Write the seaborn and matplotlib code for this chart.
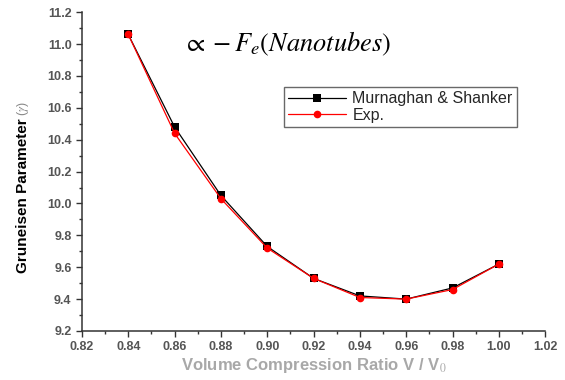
import matplotlib
matplotlib.use("Agg")
import matplotlib.pyplot as plt
from matplotlib.ticker import MultipleLocator
import seaborn as sns
import pandas as pd

# Volume compression ratio V/V0
ratio = [0.84, 0.86, 0.88, 0.90, 0.92, 0.94, 0.96, 0.98, 1.00]
# Gruneisen parameter, Murnaghan & Shanker model
murnaghan = [11.06, 10.48, 10.05, 9.73, 9.53, 9.42, 9.40, 9.47, 9.62]
# Gruneisen parameter, experimental
experiment = [11.06, 10.44, 10.03, 9.72, 9.53, 9.41, 9.40, 9.46, 9.62]

x_ticks = [0.82, 0.84, 0.86, 0.88, 0.90, 0.92, 0.94, 0.96, 0.98, 1.00, 1.02]
y_ticks = [9.2, 9.4, 9.6, 9.8, 10.0, 10.2, 10.4, 10.6, 10.8, 11.0, 11.2]

sns.set_theme(style="ticks")
plt.rcParams["font.family"] = ["Liberation Sans", "DejaVu Sans"]
plt.rcParams["mathtext.fontset"] = "stix"

df = pd.concat([
    pd.DataFrame({"ratio": ratio, "gamma": murnaghan, "series": "Murnaghan & Shanker"}),
    pd.DataFrame({"ratio": ratio, "gamma": experiment, "series": "Exp."}),
])

fig = plt.figure(figsize=(5.65, 3.8), dpi=100)
ax = fig.add_axes([0.145, 0.129, 0.82, 0.839])

sns.lineplot(data=df, x="ratio", y="gamma", hue="series", style="series",
             palette={"Murnaghan & Shanker": "black", "Exp.": "red"},
             markers={"Murnaghan & Shanker": "s", "Exp.": "o"},
             dashes=False, markersize=5.5, markeredgewidth=0, linewidth=0.9,
             ax=ax)

ax.set_xlim(0.82, 1.02)
ax.set_ylim(9.2, 11.2)
ax.set_xticks(x_ticks)
ax.set_yticks(y_ticks)
ax.set_xticklabels([f"{v:.2f}" for v in x_ticks])
ax.set_yticklabels([f"{v:.1f}" for v in y_ticks])
ax.xaxis.set_minor_locator(MultipleLocator(0.01))
ax.yaxis.set_minor_locator(MultipleLocator(0.1))
ax.tick_params(which="major", direction="out", length=4, width=1, colors="#333333",
               labelsize=9, labelcolor="#555555")
ax.tick_params(which="minor", direction="out", length=2.5, width=1, colors="#333333")
for lab in ax.get_xticklabels() + ax.get_yticklabels():
    lab.set_fontweight("bold")

for side in ("top", "right"):
    ax.spines[side].set_visible(False)
for side in ("left", "bottom"):
    ax.spines[side].set_color("#333333")
    ax.spines[side].set_linewidth(1.1)

ax.set_xlabel(r"Volume Compression Ratio V / V$_0$", fontsize=12,
              fontweight="bold", color="#a8a8a8", labelpad=2)
ax.set_ylabel("Gruneisen Parameter", fontsize=11,
              fontweight="bold", color="black")
ax.yaxis.set_label_coords(-0.112, 0.423)

ax.text(0.8635, 11.0, r"$\propto -F_e(Nanotubes)$", fontsize=19, ha="left",
        va="center", color="black")

handles, labels = ax.get_legend_handles_labels()
leg = ax.legend(handles=handles, labels=labels, loc="upper left",
                bbox_to_anchor=(0.42, 0.79), frameon=True, fancybox=False,
                edgecolor="#444444", fontsize=11.5, handlelength=3.6,
                borderpad=0.25, labelspacing=0.1, handletextpad=0.4)
leg.get_frame().set_linewidth(1.0)

# small grey symbol after the rotated axis title
fig.canvas.draw()
bb = ax.yaxis.label.get_window_extent()
fig.text((bb.x0 + bb.x1) / 2 / fig.bbox.width, (bb.y1 + 3) / fig.bbox.height,
         r"($\gamma$)", rotation=90, ha="center", va="bottom",
         fontsize=9, color="#888888")

fig.savefig("out.png", dpi=100)
